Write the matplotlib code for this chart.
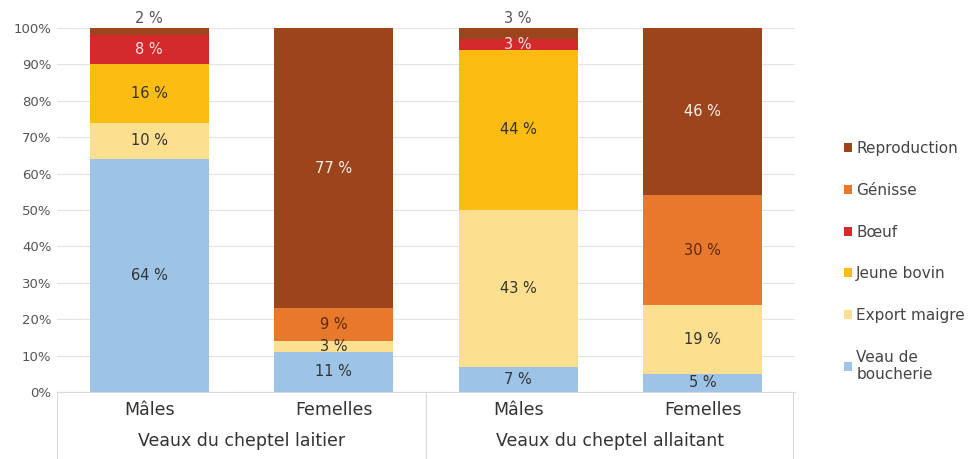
import matplotlib
matplotlib.use("Agg")
import matplotlib.pyplot as plt
import numpy as np

# data (in %)
bars = ["Mâles", "Femelles", "Mâles", "Femelles"]
groups = ["Veaux du cheptel laitier", "Veaux du cheptel allaitant"]
series = ["Veau de\nboucherie", "Export maigre", "Jeune bovin", "Bœuf", "Génisse", "Reproduction"]
veau = [64, 11, 7, 5]
export = [10, 3, 43, 19]
jeune_bovin = [16, 0, 44, 0]
boeuf = [8, 0, 3, 0]
genisse = [0, 9, 0, 30]
reproduction = [2, 77, 3, 46]

values = [veau, export, jeune_bovin, boeuf, genisse, reproduction]
colors = ["#9dc3e6", "#fde08f", "#fdbc12", "#d42a2c", "#e8792c", "#9c451c"]
txt_colors = ["#333333", "#333333", "#333333", "#f5e0e0", "#5a2a10", "#f5f0ec"]

plt.rcParams["font.family"] = ["DejaVu Sans"]

fig = plt.figure(figsize=(9.79, 4.59), dpi=100)
ax = fig.add_axes([57 / 979, 1 - 392 / 459, (795 - 57) / 979, (392 - 28) / 459])

x = np.arange(len(bars))
bottom = np.zeros(len(bars))
for i, (name, vals) in enumerate(zip(series, values)):
    vals = np.array(vals, dtype=float)
    ax.bar(x, vals, 0.645, bottom=bottom, color=colors[i], label=name, zorder=2)
    for j, v in enumerate(vals):
        if v <= 0:
            continue
        if name == "Reproduction" and v <= 3:
            ax.text(x[j], 100.6, f"{int(v)} %", ha="center", va="bottom",
                    fontsize=10.5, color="#555555")
        else:
            ax.text(x[j], bottom[j] + v / 2, f"{int(v)} %", ha="center", va="center",
                    fontsize=10.5, color=txt_colors[i])
    bottom += vals

ax.set_xlim(-0.5, 3.5)
ax.set_ylim(0, 100)
ax.set_yticks(np.arange(0, 101, 10))
ax.set_yticklabels([f"{t}%" for t in range(0, 101, 10)], fontsize=9.5, color="#555555")
ax.yaxis.grid(True, color="#e3e3e3", lw=0.8, zorder=0)
ax.set_xticks([])
for s in ["top", "right", "left"]:
    ax.spines[s].set_visible(False)
ax.spines["bottom"].set_color("#d9d9d9")
ax.tick_params(axis="y", length=0, pad=4)

# category labels and group labels below the axis
for j, b in enumerate(bars):
    ax.text(x[j], -5, b, ha="center", va="center", fontsize=12.5, color="#333333",
            clip_on=False)
for g, name in enumerate(groups):
    ax.text(2 * g + 0.5, -13.5, name, ha="center", va="center", fontsize=12.5,
            color="#333333", clip_on=False)
for xs in [-0.5, 1.5, 3.49]:
    ax.plot([xs, xs], [0, -19], color="#d9d9d9", lw=0.8, clip_on=False)

h, l = ax.get_legend_handles_labels()
leg = fig.legend(h[::-1], l[::-1], loc="center left", bbox_to_anchor=(0.848, 0.43),
                 frameon=False, fontsize=11, handlelength=0.55, handleheight=0.55,
                 handletextpad=0.25, labelspacing=1.75, labelcolor="#444444")

fig.savefig("out.png", dpi=100)
